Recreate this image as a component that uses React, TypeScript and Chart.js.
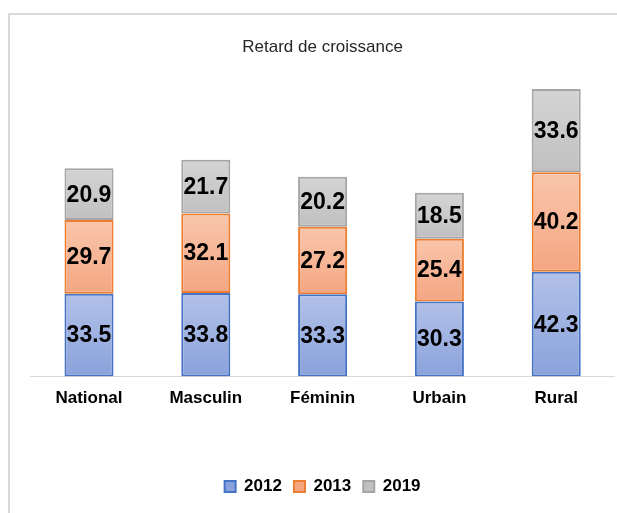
import React, { useEffect, useRef } from 'react';
import { Chart, registerables } from 'chart.js';

Chart.register(...registerables);

const categories = ['National', 'Masculin', 'Féminin', 'Urbain', 'Rural'];
const values2012 = [33.5, 33.8, 33.3, 30.3, 42.3];
const values2013 = [29.7, 32.1, 27.2, 25.4, 40.2];
const values2019 = [20.9, 21.7, 20.2, 18.5, 33.6];
const seriesNames = ['2012', '2013', '2019'];
const titleText = 'Retard de croissance';

const FONT = '"Liberation Sans", Arial, Helvetica, sans-serif';

const palettes = [
  { top: '#b2c1e8', bottom: '#8aa2db', border: '#4472c4', flat: '#9fb2e2' },
  { top: '#f9c6ab', bottom: '#f4a682', border: '#ed7d31', flat: '#f7b695' },
  { top: '#d4d4d4', bottom: '#c0c0c0', border: '#a5a5a5', flat: '#cacaca' },
];

function makeBg(i: number) {
  return (ctx: any) => {
    const p = palettes[i];
    if (ctx.type !== 'data') return p.flat;
    const chart = ctx.chart;
    const y = chart.scales && chart.scales.y;
    if (!y || !chart.chartArea) return p.flat;
    let base = 0;
    for (let k = 0; k < i; k++) base += chart.data.datasets[k].data[ctx.dataIndex];
    const v = chart.data.datasets[i].data[ctx.dataIndex];
    const y0 = y.getPixelForValue(base);
    const y1 = y.getPixelForValue(base + v);
    if (!isFinite(y0) || !isFinite(y1) || y0 === y1) return p.flat;
    const g = chart.ctx.createLinearGradient(0, y1, 0, y0);
    g.addColorStop(0, p.top);
    g.addColorStop(1, p.bottom);
    return g;
  };
}

const valueLabels = {
  id: 'valueLabels',
  afterDatasetsDraw(chart: any) {
    const ctx = chart.ctx;
    ctx.save();
    ctx.font = `bold 23px ${FONT}`;
    ctx.fillStyle = '#000000';
    ctx.textAlign = 'center';
    ctx.textBaseline = 'middle';
    chart.data.datasets.forEach((ds: any, i: number) => {
      const meta = chart.getDatasetMeta(i);
      meta.data.forEach((bar: any, j: number) => {
        const { x, y, base } = bar.getProps(['x', 'y', 'base'], true);
        ctx.fillText(Number(ds.data[j]).toFixed(1), x, (y + base) / 2 + 1);
      });
    });
    ctx.restore();
  },
};

export default function App() {
  const canvasRef = useRef<HTMLCanvasElement | null>(null);

  useEffect(() => {
    const canvas = canvasRef.current;
    if (!canvas) return;
    const seriesValues = [values2012, values2013, values2019];
    const chart = new Chart(canvas, {
      type: 'bar',
      data: {
        labels: categories,
        datasets: seriesNames.map((name, i) => ({
          label: name,
          data: seriesValues[i],
          backgroundColor: makeBg(i),
          borderColor: palettes[i].border,
          borderWidth: 2,
          borderSkipped: false,
          barPercentage: 0.42,
          categoryPercentage: 1,
        })),
      },
      options: {
        responsive: false,
        animation: false,
        devicePixelRatio: 1,
        layout: { padding: { top: 37, left: 30.6, right: 2.4, bottom: 8 } },
        scales: {
          x: {
            stacked: true,
            grid: { display: false, drawTicks: false },
            border: { display: true, color: '#d9d9d9', width: 1 },
            ticks: {
              color: '#000000',
              padding: 12,
              autoSkip: false,
              maxRotation: 0,
              font: { family: FONT, size: 17, weight: 'bold' },
            },
          },
          y: { stacked: true, display: false, min: 0, max: 120 },
        },
        plugins: {
          title: {
            display: true,
            text: titleText,
            color: '#262626',
            font: { family: FONT, size: 17, weight: 'normal' },
            padding: { top: 0, bottom: 22 },
          },
          legend: {
            position: 'bottom',
            title: { display: true, text: '', font: { size: 10 }, padding: { top: 0, bottom: 33 } },
            labels: {
              boxWidth: 11,
              boxHeight: 11,
              padding: 12,
              color: '#000000',
              font: { family: FONT, size: 17, weight: 'bold' },
            },
          },
          tooltip: { enabled: false },
        },
      },
      plugins: [valueLabels],
    } as any);
    return () => chart.destroy();
  }, []);

  return (
    <div style={{ position: 'fixed', left: 0, top: 0, width: 617, height: 513, overflow: 'hidden', background: '#ffffff' }}>
      <div
        style={{
          position: 'absolute',
          left: 8,
          top: 13,
          width: 700,
          height: 600,
          border: '2px solid #d9d9d9',
          boxSizing: 'border-box',
        }}
      />
      <canvas ref={canvasRef} width={617} height={513} style={{ position: 'absolute', left: 0, top: 0, display: 'block' }} />
    </div>
  );
}
